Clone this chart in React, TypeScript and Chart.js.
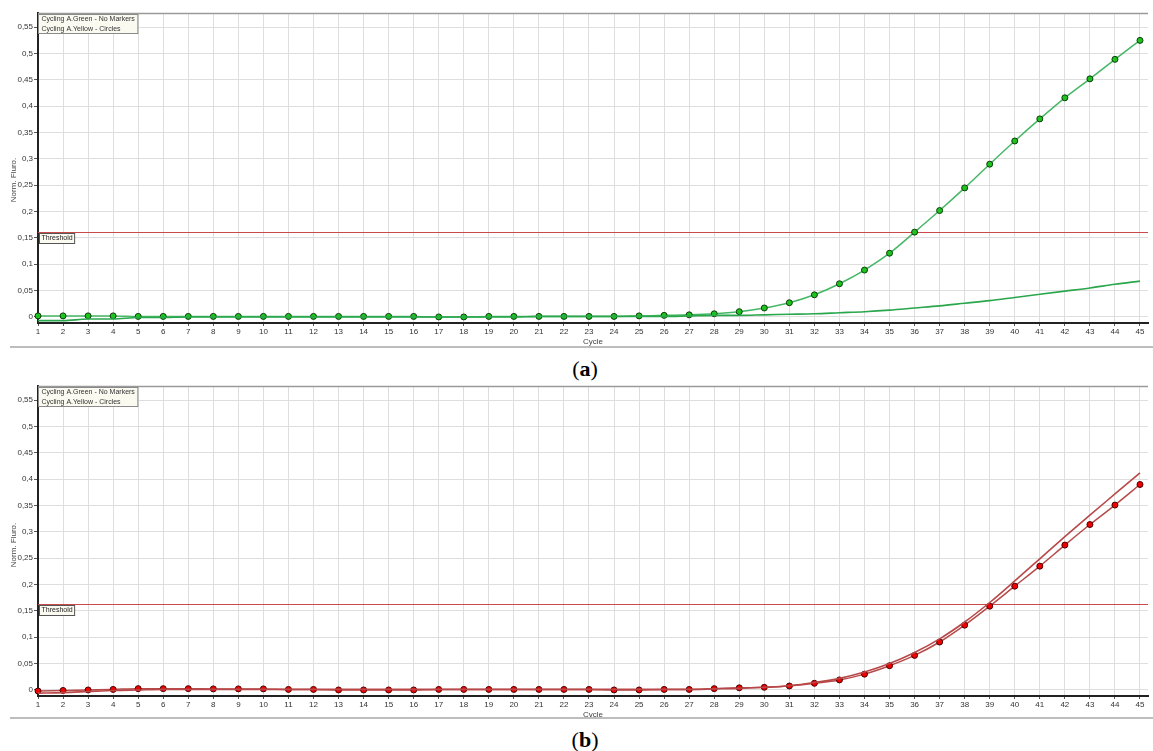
import React, { useEffect, useRef } from "react";
import { Chart, registerables } from "chart.js";

Chart.register(...registerables);

const cycles = [1, 2, 3, 4, 5, 6, 7, 8, 9, 10, 11, 12, 13, 14, 15, 16, 17, 18, 19, 20, 21, 22, 23, 24, 25, 26, 27, 28, 29, 30, 31, 32, 33, 34, 35, 36, 37, 38, 39, 40, 41, 42, 43, 44, 45];

// Panel (a)
const greenCircles = [0.002, 0.002, 0.002, 0.002, 0.001, 0.001, 0.001, 0.001, 0.001, 0.001, 0.001, 0.001, 0.001, 0.001, 0.001, 0.001, 0.0, 0.0, 0.001, 0.001, 0.001, 0.001, 0.001, 0.001, 0.002, 0.003, 0.004, 0.006, 0.01, 0.017, 0.027, 0.042, 0.063, 0.089, 0.121, 0.161, 0.202, 0.245, 0.29, 0.334, 0.376, 0.416, 0.452, 0.489, 0.525];
const greenNoMarkers = [-0.007, -0.007, -0.004, -0.004, -0.001, -0.001, 0.0, 0.0, 0.0, 0.0, 0.0, 0.0, 0.0, 0.0, 0.0, 0.0, 0.0, 0.0, 0.0, 0.0, 0.001, 0.001, 0.001, 0.001, 0.001, 0.001, 0.002, 0.003, 0.003, 0.004, 0.005, 0.006, 0.008, 0.01, 0.013, 0.017, 0.021, 0.026, 0.031, 0.037, 0.043, 0.049, 0.055, 0.062, 0.068];

// Panel (b)
const redCircles = [-0.002, -0.001, 0.0, 0.001, 0.0025, 0.0025, 0.0025, 0.002, 0.002, 0.002, 0.001, 0.001, 0.0, 0.0, 0.0, 0.0, 0.001, 0.001, 0.001, 0.001, 0.001, 0.001, 0.001, 0.0, 0.0, 0.001, 0.001, 0.0025, 0.004, 0.005, 0.0075, 0.0126, 0.019, 0.03, 0.046, 0.0656, 0.091, 0.123, 0.159, 0.197, 0.235, 0.275, 0.314, 0.351, 0.39];
const redNoMarkers = [-0.006, -0.005, -0.003, -0.001, 0.0, 0.001, 0.001, 0.001, 0.001, 0.001, 0.001, 0.001, 0.001, 0.001, 0.001, 0.001, 0.001, 0.001, 0.001, 0.001, 0.001, 0.001, 0.001, 0.001, 0.001, 0.001, 0.001, 0.002, 0.003, 0.005, 0.008, 0.014, 0.022, 0.034, 0.05, 0.071, 0.097, 0.129, 0.166, 0.207, 0.249, 0.291, 0.332, 0.372, 0.412];

const yTickValues = [0, 0.05, 0.1, 0.15, 0.2, 0.25, 0.3, 0.35, 0.4, 0.45, 0.5, 0.55];
const yTickLabels = ["0", "0,05", "0,1", "0,15", "0,2", "0,25", "0,3", "0,35", "0,4", "0,45", "0,5", "0,55"];
const legendLines = ["Cycling A.Green - No Markers", "Cycling A.Yellow - Circles"];
const thresholdLabel = "Threshold";
const xTitle = "Cycle";
const yTitle = "Norm. Fluro.";
const thresholdA = 0.161;
const thresholdB = 0.163;

const FONT = "'Liberation Sans', Arial, sans-serif";

type PanelProps = {
  top: number;
  circles: number[];
  noMarkers: number[];
  threshold: number;
  lineColor: string;
  noMarkerColor: string;
  pointFill: string;
  pointBorder: string;
  yTitleCenter: number;
};

function Panel(props: PanelProps) {
  const ref = useRef<HTMLCanvasElement | null>(null);
  useEffect(() => {
    const canvas = ref.current;
    if (!canvas) return;
    const overlay = {
      id: "overlay",
      beforeDatasetsDraw(chart: any) {
        const { ctx, chartArea } = chart;
        const y = chart.scales.y.getPixelForValue(props.threshold);
        ctx.save();
        ctx.strokeStyle = "#c84a4a";
        ctx.lineWidth = 1.2;
        ctx.beginPath();
        ctx.moveTo(chartArea.left, Math.round(y) + 0.5);
        ctx.lineTo(chartArea.right, Math.round(y) + 0.5);
        ctx.stroke();
        // top border
        ctx.strokeStyle = "#9a9a9a";
        ctx.lineWidth = 1.5;
        ctx.beginPath();
        ctx.moveTo(chartArea.left, chartArea.top + 0.5);
        ctx.lineTo(chartArea.right, chartArea.top + 0.5);
        ctx.stroke();
        ctx.restore();
      },
      afterDatasetsDraw(chart: any) {
        const { ctx, chartArea } = chart;
        ctx.save();
        ctx.font = `7px ${FONT}`;
        ctx.textBaseline = "middle";
        ctx.textAlign = "left";
        // legend box
        const w = Math.max(...legendLines.map((t) => ctx.measureText(t).width)) + 6;
        const bx = chartArea.left + 0.5;
        const by = chartArea.top + 1.5;
        ctx.fillStyle = "#fbfaf1";
        ctx.fillRect(bx, by, w, 19);
        ctx.strokeStyle = "#8a8a8a";
        ctx.lineWidth = 1;
        ctx.strokeRect(bx, by, w, 19);
        ctx.fillStyle = "#333";
        legendLines.forEach((t, i) => ctx.fillText(t, bx + 3, by + 5 + i * 9.3));
        // threshold label
        const ty = Math.round(chart.scales.y.getPixelForValue(props.threshold)) + 1.5;
        const tw = ctx.measureText(thresholdLabel).width + 4;
        ctx.fillStyle = "#fbfaf1";
        ctx.fillRect(chartArea.left + 1.5, ty, tw, 10);
        ctx.strokeStyle = "#555";
        ctx.strokeRect(chartArea.left + 1.5, ty, tw, 10);
        ctx.fillStyle = "#222";
        ctx.fillText(thresholdLabel, chartArea.left + 3.5, ty + 5);
        ctx.restore();
      },
      afterDraw(chart: any) {
        const { ctx, chartArea } = chart;
        ctx.save();
        ctx.font = `8px ${FONT}`;
        ctx.fillStyle = "#444";
        ctx.textAlign = "center";
        ctx.textBaseline = "middle";
        ctx.fillText(xTitle, (chartArea.left + chartArea.right) / 2, 342);
        ctx.translate(14, props.yTitleCenter);
        ctx.rotate(-Math.PI / 2);
        ctx.fillText(yTitle, 0, 0);
        ctx.restore();
      },
    };
    const chart = new Chart(canvas, {
      type: "line",
      data: {
        datasets: [
          {
            label: legendLines[0],
            data: cycles.map((c, i) => ({ x: c, y: props.noMarkers[i] })),
            borderColor: props.noMarkerColor,
            borderWidth: 1.6,
            pointRadius: 0,
            cubicInterpolationMode: "monotone",
            clip: 4,
          },
          {
            label: legendLines[1],
            data: cycles.map((c, i) => ({ x: c, y: props.circles[i] })),
            borderColor: props.lineColor,
            borderWidth: 1.5,
            pointRadius: 3,
            pointBackgroundColor: props.pointFill,
            pointBorderColor: props.pointBorder,
            pointBorderWidth: 1,
            cubicInterpolationMode: "monotone",
            clip: 5,
          },
        ],
      } as any,
      options: {
        animation: false,
        responsive: false,
        maintainAspectRatio: false,
        events: [],
        layout: { padding: { top: 13, left: 0, right: 0, bottom: 0 } },
        plugins: { legend: { display: false }, tooltip: { enabled: false }, title: { display: false } },
        scales: {
          x: {
            type: "linear",
            min: 1,
            max: 45.32,
            afterBuildTicks: (scale: any) => {
              scale.ticks = cycles.map((v) => ({ value: v }));
            },
            afterFit: (scale: any) => {
              scale.height = 29;
            },
            ticks: {
              autoSkip: false,
              maxRotation: 0,
              padding: 1,
              color: "#333",
              font: { family: FONT, size: 8 },
              callback: (v: any) => String(v),
            },
            grid: { color: "#dedede", lineWidth: 1, tickLength: 3, tickColor: "#555" },
            border: { display: true, color: "#222", width: 2 },
          },
          y: {
            type: "linear",
            min: -0.0115,
            max: 0.577,
            afterBuildTicks: (scale: any) => {
              scale.ticks = yTickValues.map((v) => ({ value: v }));
            },
            afterFit: (scale: any) => {
              scale.width = 38;
            },
            ticks: {
              padding: 1,
              color: "#333",
              font: { family: FONT, size: 8 },
              callback: (_v: any, i: number) => yTickLabels[i],
            },
            grid: { color: "#dedede", lineWidth: 1, tickLength: 4, tickColor: "#555" },
            border: { display: true, color: "#222", width: 2 },
          },
        },
      },
      plugins: [overlay],
    } as any);
    return () => chart.destroy();
  }, []);
  return (
    <div style={{ position: "absolute", left: 0, top: props.top, width: 1153, height: 352 }}>
      <canvas ref={ref} width={1153} height={352} style={{ display: "block", width: 1153, height: 352 }} />
    </div>
  );
}

export default function App() {
  const captionStyle: React.CSSProperties = {
    position: "absolute",
    left: 535,
    width: 100,
    textAlign: "center",
    fontFamily: "'Liberation Serif', 'DejaVu Serif', serif",
    fontSize: 22,
    lineHeight: "22px",
    color: "#000",
  };
  return (
    <div style={{ position: "absolute", left: 0, top: 0, width: 1153, height: 751, background: "#fff", overflow: "hidden" }}>
      <Panel
        top={0}
        circles={greenCircles}
        noMarkers={greenNoMarkers}
        threshold={thresholdA}
        lineColor="#47b766"
        noMarkerColor="#2aa64c"
        pointFill="#1cc41c"
        pointBorder="#0d3a0d"
        yTitleCenter={180}
      />
      <div style={{ position: "absolute", left: 10, top: 346, width: 1143, height: 2, background: "#bdbdbd" }} />
      <div style={{ ...captionStyle, top: 358 }}>
        (<b>a</b>)
      </div>
      <Panel
        top={373}
        circles={redCircles}
        noMarkers={redNoMarkers}
        threshold={thresholdB}
        lineColor="#b54a4a"
        noMarkerColor="#b84848"
        pointFill="#f00000"
        pointBorder="#4a0000"
        yTitleCenter={172}
      />
      <div style={{ position: "absolute", left: 10, top: 717, width: 1143, height: 2, background: "#bdbdbd" }} />
      <div style={{ ...captionStyle, top: 729 }}>
        (<b>b</b>)
      </div>
    </div>
  );
}
